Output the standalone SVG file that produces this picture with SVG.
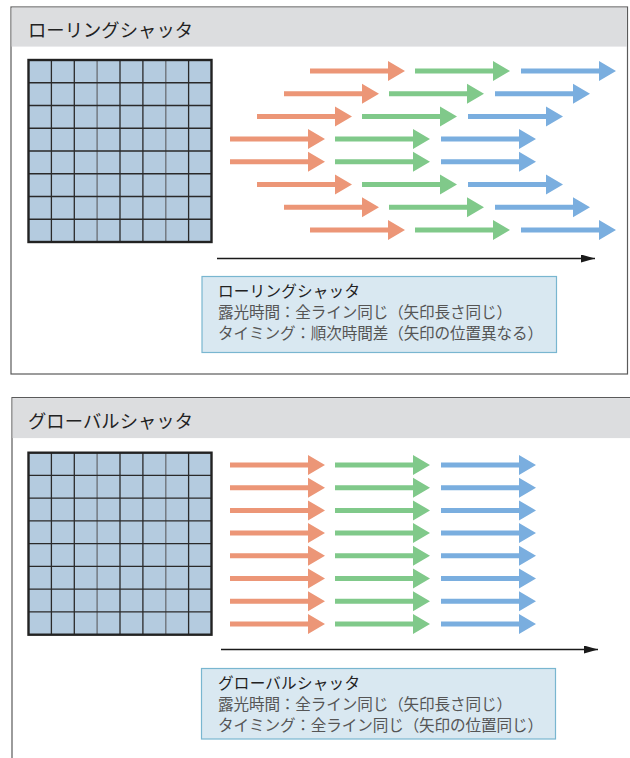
<svg xmlns="http://www.w3.org/2000/svg" xmlns:xlink="http://www.w3.org/1999/xlink" width="630" height="758" viewBox="0 0 630 758">
<defs>
<style>
.panel{fill:#ffffff;stroke:#5a5a5a;stroke-width:1.2}
.hdr{fill:#dcdddf}
.hdrtxt{font-family:"Noto Sans CJK JP","Noto Sans CJK SC",sans-serif;font-size:18.3px;fill:#222}
.cell{fill:#b4cbdf}
.gl{stroke:#2a2a2a;stroke-width:1.3;fill:none}
.gl2{stroke:#6a6e74;stroke-width:1.3;fill:none}
.gout{fill:none;stroke:#222;stroke-width:2.4}
.o{fill:#ec9677}
.g{fill:#80c98a}
.b{fill:#7aaedf}
.time{stroke:#1a1a1a;stroke-width:1.6;fill:none}
.leg{fill:#d9e8f1;stroke:#79b6d0;stroke-width:1.2}
.lt{font-family:"Noto Sans CJK JP","Noto Sans CJK SC",sans-serif;font-size:15.6px;fill:#555}
.lt1{fill:#222}
</style>
<path id="arr" d="M0,-2.5 H78 V-10 L95,0 L78,10 V2.5 H0 Z"/>
<marker id="mk" viewBox="0 0 10 10" refX="10" refY="5" markerWidth="14" markerHeight="8" markerUnits="userSpaceOnUse" orient="auto" preserveAspectRatio="none">
<path d="M0,0 L10,5 L0,10 Z" fill="#1a1a1a"/>
</marker>
<g id="gridpat">
<rect class="cell" x="0" y="0" width="183" height="182"/>
<path class="gl" d="M22.9,0V182M45.8,0V182M91.5,0V182M114.4,0V182M160.1,0V182"/>
<path class="gl2" d="M68.6,0V182M137.3,0V182"/>
<path class="gl" d="M0,22.75H183M0,45.5H183M0,68.25H183M0,91H183M0,113.75H183M0,136.5H183M0,159.25H183"/>
<rect class="gout" x="0" y="0" width="183" height="182"/>
</g>
</defs>

<g id="panel-rolling">
<rect class="panel" x="11" y="7" width="616.5" height="367"/>
<rect class="hdr" x="11.6" y="7.6" width="615.3" height="39"/>
<text class="hdrtxt" x="28" y="37" textLength="165" lengthAdjust="spacing">ローリングシャッタ</text>
</g>

<g id="sensor-rolling">
<use href="#gridpat" x="28.5" y="60"/>
</g>

<g id="arrows-rolling">
<g transform="translate(0,71)"><use href="#arr" class="o" x="310"/><use href="#arr" class="g" x="415"/><use href="#arr" class="b" x="521"/></g>
<g transform="translate(0,93.7)"><use href="#arr" class="o" x="284"/><use href="#arr" class="g" x="389"/><use href="#arr" class="b" x="495"/></g>
<g transform="translate(0,116.4)"><use href="#arr" class="o" x="257"/><use href="#arr" class="g" x="362"/><use href="#arr" class="b" x="468"/></g>
<g transform="translate(0,139.1)"><use href="#arr" class="o" x="230"/><use href="#arr" class="g" x="335"/><use href="#arr" class="b" x="441"/></g>
<g transform="translate(0,161.8)"><use href="#arr" class="o" x="230"/><use href="#arr" class="g" x="335"/><use href="#arr" class="b" x="441"/></g>
<g transform="translate(0,184.5)"><use href="#arr" class="o" x="257"/><use href="#arr" class="g" x="362"/><use href="#arr" class="b" x="468"/></g>
<g transform="translate(0,207.2)"><use href="#arr" class="o" x="284"/><use href="#arr" class="g" x="389"/><use href="#arr" class="b" x="495"/></g>
<g transform="translate(0,229.9)"><use href="#arr" class="o" x="310"/><use href="#arr" class="g" x="415"/><use href="#arr" class="b" x="521"/></g>
</g>

<g id="connectors">
<line class="time" x1="217" y1="258.5" x2="595" y2="258.5" marker-end="url(#mk)"/>
<line class="time" x1="221" y1="649.5" x2="598" y2="649.5" marker-end="url(#mk)"/>
</g>

<g id="legend-rolling">
<rect class="leg" x="202" y="276.5" width="354.5" height="76"/>
<text class="lt lt1" x="218" y="297" textLength="142" lengthAdjust="spacing">ローリングシャッタ</text>
<text class="lt" x="218" y="318" textLength="294" lengthAdjust="spacing">露光時間：全ライン同じ（矢印長さ同じ）</text>
<text class="lt" x="218" y="339" textLength="325" lengthAdjust="spacing">タイミング：順次時間差（矢印の位置異なる）</text>
</g>

<g id="panel-global">
<path class="panel" d="M630,397.5 H12 V758" fill="none"/>
<rect class="hdr" x="12.6" y="398.1" width="617.4" height="40"/>
<text class="hdrtxt" x="28" y="428" textLength="165" lengthAdjust="spacing">グローバルシャッタ</text>
</g>

<g id="sensor-global">
<use href="#gridpat" x="28.5" y="452.7"/>
</g>

<g id="arrows-global">
<g transform="translate(0,465)"><use href="#arr" class="o" x="230"/><use href="#arr" class="g" x="335"/><use href="#arr" class="b" x="441"/></g>
<g transform="translate(0,487.7)"><use href="#arr" class="o" x="230"/><use href="#arr" class="g" x="335"/><use href="#arr" class="b" x="441"/></g>
<g transform="translate(0,510.4)"><use href="#arr" class="o" x="230"/><use href="#arr" class="g" x="335"/><use href="#arr" class="b" x="441"/></g>
<g transform="translate(0,533.1)"><use href="#arr" class="o" x="230"/><use href="#arr" class="g" x="335"/><use href="#arr" class="b" x="441"/></g>
<g transform="translate(0,555.8)"><use href="#arr" class="o" x="230"/><use href="#arr" class="g" x="335"/><use href="#arr" class="b" x="441"/></g>
<g transform="translate(0,578.5)"><use href="#arr" class="o" x="230"/><use href="#arr" class="g" x="335"/><use href="#arr" class="b" x="441"/></g>
<g transform="translate(0,601.2)"><use href="#arr" class="o" x="230"/><use href="#arr" class="g" x="335"/><use href="#arr" class="b" x="441"/></g>
<g transform="translate(0,623.9)"><use href="#arr" class="o" x="230"/><use href="#arr" class="g" x="335"/><use href="#arr" class="b" x="441"/></g>
</g>

<g id="legend-global">
<rect class="leg" x="201.5" y="668.5" width="354" height="70.5"/>
<text class="lt lt1" x="218" y="689" textLength="142" lengthAdjust="spacing">グローバルシャッタ</text>
<text class="lt" x="218" y="710" textLength="294" lengthAdjust="spacing">露光時間：全ライン同じ（矢印長さ同じ）</text>
<text class="lt" x="218" y="731" textLength="325" lengthAdjust="spacing">タイミング：全ライン同じ（矢印の位置同じ）</text>
</g>
</svg>
